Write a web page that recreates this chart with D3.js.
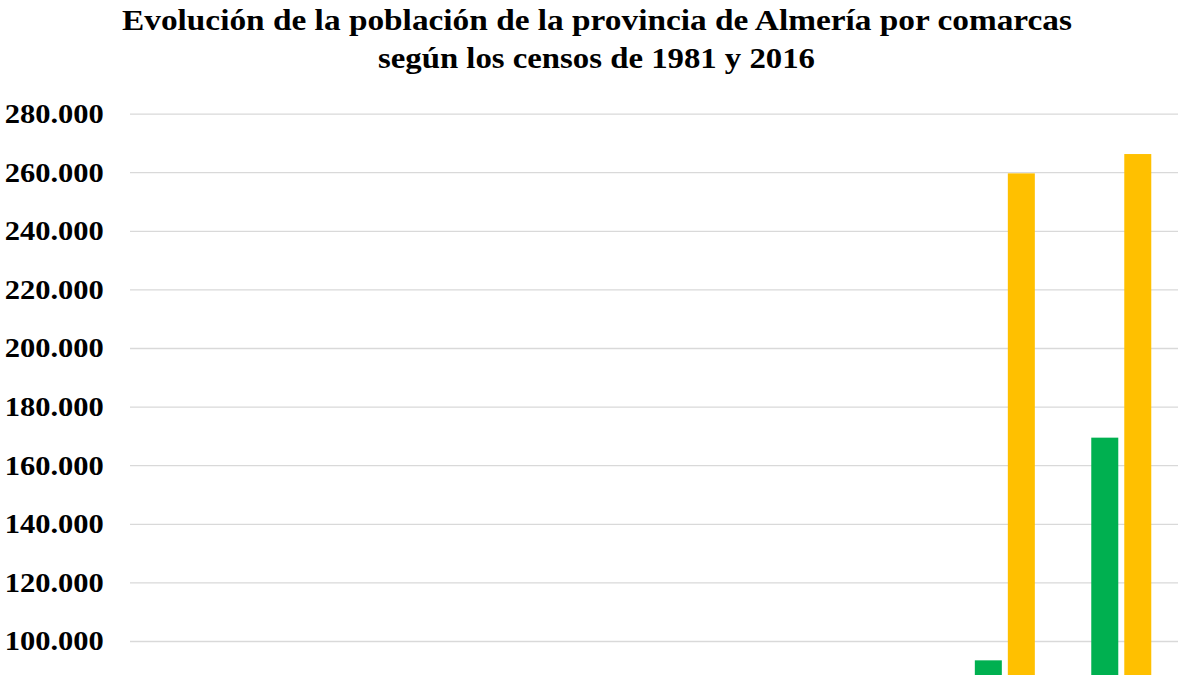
<!DOCTYPE html>
<html>
<head>
<meta charset="utf-8">
<script src="https://cdn.jsdelivr.net/npm/d3@7"></script>
<style>
    body { margin: 0; overflow: hidden; background: #fff; }
</style>
</head>
<body>
<div id="graph"></div>
<script>
const comarcas = ["Los Vélez", "Alpujarra Almeriense", "Río Nacimiento", "Levante Almeriense",
    "Los Filabres-Tabernas", "Valle del Almanzora", "Campo de Níjar y Bajo Andarax",
    "Poniente Almeriense", "Comarca Metropolitana de Almería"]
const censos = ["1981", "2016"]
const pob1981 = [14000, 13500, 6500, 62000, 13000, 52000, 22000, 93400, 169400]
const pob2016 = [11500, 9800, 4500, 87000, 10500, 56000, 38000, 259600, 266200]
// only the part of the axis that is in view
const yTicks = [100000, 120000, 140000, 160000, 180000, 200000, 220000, 240000, 260000, 280000]
const colour = { "1981": "#00b050", "2016": "#ffc000" }

const width = 1200
const height = 675
const margin = { left: 131.5, right: 20.5, top: 113.6, zero: 934 }
const plotLeft = 130
const plotRight = 1178

const locale = d3.formatLocale({ decimal: ",", thousands: ".", grouping: [3], currency: ["", " €"] })
const fmt = locale.format(",d")

const data = comarcas.map((c, i) => ({ comarca: c, "1981": pob1981[i], "2016": pob2016[i] }))

const svg = d3.select('#graph')
    .append('svg')
    .attr('width', width)
    .attr('height', height)
    .style('display', 'block')
    .style('font-family', '"Liberation Serif", "Times New Roman", serif')

svg.append('text')
    .attr('x', 597).attr('y', 30)
    .attr('text-anchor', 'middle')
    .attr('textLength', 950)
    .attr('lengthAdjust', 'spacingAndGlyphs')
    .style('font-size', '30px').style('font-weight', 'bold')
    .text('Evolución de la población de la provincia de Almería por comarcas')

svg.append('text')
    .attr('x', 596.5).attr('y', 68)
    .attr('text-anchor', 'middle')
    .attr('textLength', 437)
    .attr('lengthAdjust', 'spacingAndGlyphs')
    .style('font-size', '30px').style('font-weight', 'bold')
    .text('según los censos de 1981 y 2016')

const x0 = d3.scaleBand()
    .domain(comarcas)
    .range([margin.left, width - margin.right])
    .paddingInner(0.4847)
    .paddingOuter(0.2424)

const x1 = d3.scaleBand()
    .domain(censos)
    .range([0, x0.bandwidth()])
    .paddingInner(0.1818)

const y = d3.scaleLinear()
    .domain([0, 280000])
    .range([margin.zero, margin.top])

// gridlines + labels
const yAxis = svg.append('g')
    .attr('transform', 'translate(' + plotLeft + ',0)')
    .call(d3.axisLeft(y)
        .tickValues(yTicks)
        .tickSize(-(plotRight - plotLeft))
        .tickPadding(24)
        .tickFormat(fmt))

yAxis.select('.domain').remove()
yAxis.selectAll('.tick line')
    .attr('stroke', '#d9d9d9')
    .attr('stroke-width', 1.3)
yAxis.selectAll('.tick text')
    .attr('fill', '#000')
    .attr('transform', 'scale(1.09,1)')
    .style('font-family', '"Liberation Serif", "Times New Roman", serif')
    .style('font-size', '28px')
    .style('font-weight', 'bold')

const groups = svg.append('g')
    .selectAll('g')
    .data(data)
    .enter().append('g')
    .attr('transform', (d) => 'translate(' + x0(d.comarca) + ',0)')

groups.selectAll('rect')
    .data((d) => censos.map(k => ({ key: k, value: d[k] })))
    .enter().append('rect')
    .attr('x', (d) => x1(d.key))
    .attr('width', x1.bandwidth())
    .attr('y', (d) => y(d.value))
    .attr('height', (d) => y(0) - y(d.value))
    .style('fill', (d) => colour[d.key])
</script>
</body>
</html>
